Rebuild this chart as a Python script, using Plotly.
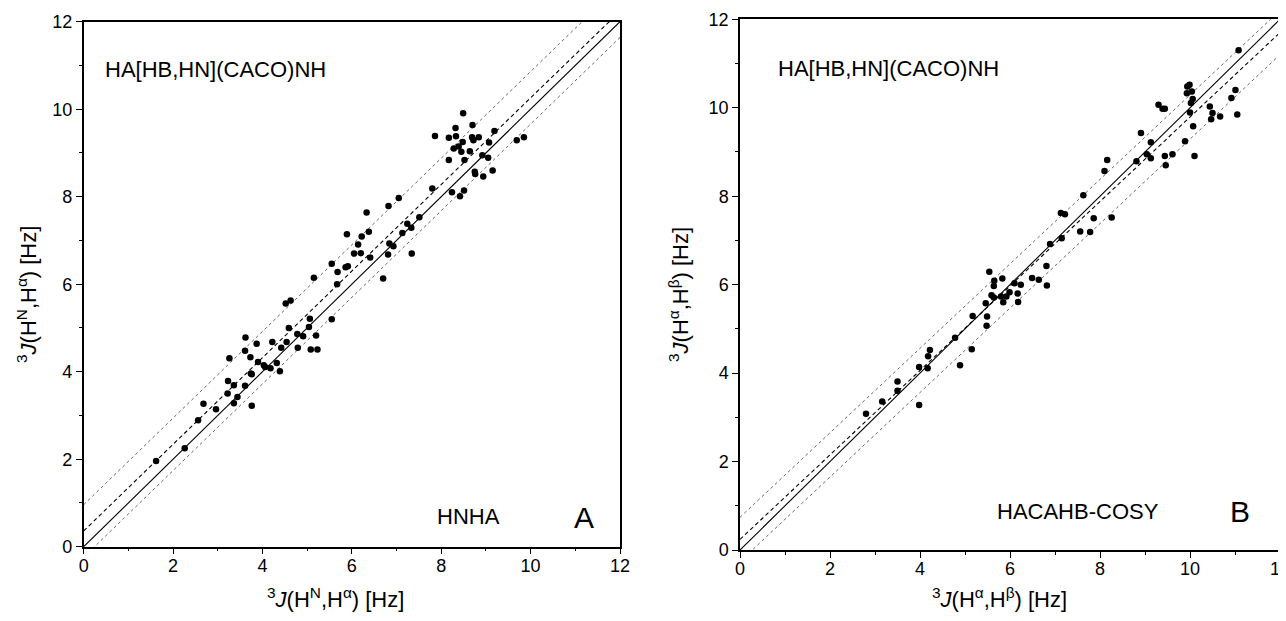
import plotly.graph_objects as go

# ---------------- data ----------------
# Panel A: HA[HB,HN](CACO)NH (y) vs HNHA (x)
a_x = [1.62, 2.26, 2.56, 2.68, 2.96, 3.36, 3.44, 3.22, 3.23, 3.36, 3.61, 3.76, 3.26, 3.61, 3.62,
       3.73, 3.87, 3.74, 3.76, 3.90, 4.03, 4.06, 4.18, 4.22, 4.32, 4.39, 4.42, 4.54, 4.59, 4.52,
       4.63, 4.79, 4.78, 4.91, 5.04, 5.06, 5.08, 5.23, 5.20, 5.55, 5.55, 5.15, 5.67, 5.68,
       5.86, 5.91, 6.05, 6.20, 6.14, 5.89, 6.22, 6.38, 6.33, 6.41, 6.70, 6.81, 6.84, 6.93, 6.82,
       7.05, 7.13, 7.24, 7.33, 7.34, 7.51, 7.80, 7.86, 8.17, 8.17, 8.24, 8.32, 8.33, 8.28, 8.39,
       8.48, 8.45, 8.49, 8.42, 8.51, 8.52, 8.64, 8.70, 8.69, 8.72, 8.84, 8.75, 8.76, 8.94, 8.92,
       9.05, 9.07, 9.15, 9.19, 9.69, 9.85]
a_y = [1.96, 2.25, 2.89, 3.27, 3.14, 3.28, 3.42, 3.50, 3.79, 3.69, 3.68, 3.22, 4.31, 4.48, 4.78,
       4.33, 4.64, 3.96, 3.94, 4.22, 4.15, 4.11, 4.08, 4.68, 4.20, 4.01, 4.55, 4.68, 5.00, 5.56,
       5.63, 4.55, 4.86, 4.81, 5.02, 5.21, 4.51, 4.51, 4.83, 5.20, 6.47, 6.15, 6.00, 6.28,
       6.39, 6.41, 6.70, 6.71, 6.91, 7.14, 7.09, 7.20, 7.64, 6.61, 6.13, 6.68, 6.93, 6.87, 7.79,
       7.97, 7.17, 7.38, 7.29, 6.70, 7.53, 8.19, 9.39, 9.35, 8.84, 8.10, 9.57, 9.38, 9.10, 9.15,
       9.25, 9.03, 9.91, 8.01, 8.14, 8.84, 9.04, 9.64, 9.36, 9.29, 9.36, 8.57, 8.52, 8.46, 8.95,
       8.89, 9.24, 8.60, 9.50, 9.29, 9.36]

# Panel B: HA[HB,HN](CACO)NH (y) vs HACAHB-COSY (x)
b_x = [2.80, 3.16, 3.50, 3.50, 3.98, 3.98, 4.17, 4.18, 4.22, 4.78, 4.89, 5.15, 5.17, 5.48,
       5.49, 5.46, 5.54, 5.65, 5.64, 5.59, 5.64, 5.83, 5.80, 5.85, 5.92, 5.99, 6.10, 6.17, 6.24,
       6.18, 6.49, 6.64, 6.81, 6.82, 6.89, 7.15, 7.13, 7.22, 7.56, 7.63, 7.78, 7.86, 8.10, 8.16,
       8.26, 8.81, 8.91, 9.04, 9.13, 9.13, 9.30, 9.39, 9.44, 9.44, 9.46, 9.61, 9.89, 9.94, 9.99,
       9.93, 10.04, 10.06, 10.02, 10.00, 10.07, 10.10, 10.44, 10.50, 10.47, 10.67, 10.92, 11.01,
       11.05, 11.08]
b_y = [3.08, 3.36, 3.60, 3.81, 3.28, 4.14, 4.11, 4.38, 4.52, 4.80, 4.18, 4.54, 5.29, 5.07,
       5.28, 5.58, 6.29, 6.09, 5.97, 5.76, 5.71, 6.14, 5.73, 5.60, 5.73, 5.83, 6.03, 5.80, 6.00,
       5.61, 6.15, 6.11, 6.42, 5.98, 6.92, 7.05, 7.62, 7.59, 7.20, 8.02, 7.19, 7.50, 8.57, 8.82,
       7.52, 8.79, 9.43, 8.95, 9.22, 8.86, 10.07, 9.98, 9.98, 8.91, 8.70, 8.95, 9.24, 10.48, 10.52,
       10.33, 10.37, 10.20, 10.11, 9.89, 9.58, 8.91, 10.03, 9.88, 9.74, 9.80, 10.22, 10.40,
       9.85, 11.30]

# regression lines: (intercept, slope), prediction band half-width
a_fit = (0.36, 0.99)
a_band = 0.6
b_fit = (0.24, 0.955)
b_band = 0.5
identity = (0.0, 1.0)

axis_range = [0, 12]
tick_vals = [0, 2, 4, 6, 8, 10, 12]

FONT = "Arial, Liberation Sans, sans-serif"

fig = go.Figure()


def add_panel(xs, ys, fit, band, xa, ya):
    lx = axis_range

    def line(c, m):
        return [c + m * v for v in lx]

    c, m = fit
    fig.add_trace(go.Scatter(x=lx, y=line(*identity), mode="lines", xaxis=xa, yaxis=ya,
                             line=dict(color="black", width=1.1), showlegend=False, hoverinfo="skip"))
    fig.add_trace(go.Scatter(x=lx, y=line(c, m), mode="lines", xaxis=xa, yaxis=ya,
                             line=dict(color="black", width=1.1, dash="4px,3px"), showlegend=False,
                             hoverinfo="skip"))
    for s in (1, -1):
        fig.add_trace(go.Scatter(x=lx, y=line(c + s * band, m), mode="lines", xaxis=xa, yaxis=ya,
                                 line=dict(color="#666666", width=1, dash="dot"), showlegend=False,
                                 hoverinfo="skip"))
    fig.add_trace(go.Scatter(x=xs, y=ys, mode="markers", xaxis=xa, yaxis=ya,
                             marker=dict(color="black", size=6.5), showlegend=False))


add_panel(a_x, a_y, a_fit, a_band, "x", "y")
add_panel(b_x, b_y, b_fit, b_band, "x2", "y2")

W, H = 1286, 621
OFF = 8  # page body margin: figure origin sits 8 px in from the page corner


def px_x(p):
    return (p - OFF) / W


def px_y(p):
    return (H - (p - OFF)) / H


axis_common = dict(range=axis_range, tickvals=tick_vals, ticks="outside", ticklen=6, tickwidth=1.2,
                   tickcolor="black", showline=True, linecolor="black", linewidth=1.5, mirror=True,
                   showgrid=False, zeroline=False, tickfont=dict(family=FONT, size=18, color="black"),
                   minor=dict(dtick=1, ticks="outside", ticklen=3, tickwidth=1, tickcolor="black"),
                   automargin=False, fixedrange=True)

fig.update_layout(
    width=W, height=H,
    margin=dict(l=0, r=0, t=0, b=0),
    paper_bgcolor="white", plot_bgcolor="white",
    xaxis=dict(domain=[px_x(83.7), px_x(620)], anchor="y", ticklabelstandoff=-4, **axis_common),
    yaxis=dict(domain=[px_y(546.7), px_y(21.7)], anchor="x", **axis_common),
    xaxis2=dict(domain=[px_x(740), px_x(1280)], anchor="y2", ticklabelstandoff=-4, **axis_common),
    yaxis2=dict(domain=[px_y(550), px_y(19.3)], anchor="x2", **axis_common),
)

ann = []
lab = dict(family=FONT, size=22, color="black")
big = dict(family=FONT, size=30, color="black")
c = dict(showarrow=False, xanchor="center", yanchor="middle")
ann.append(dict(x=2.96, y=10.9, xref="x", yref="y", text="HA[HB,HN](CACO)NH", font=lab, **c))
ann.append(dict(x=8.6, y=0.68, xref="x", yref="y", text="HNHA", font=lab, **c))
ann.append(dict(x=11.19, y=0.66, xref="x", yref="y", text="A", font=big, **c))
ann.append(dict(x=3.29, y=10.88, xref="x2", yref="y2", text="HA[HB,HN](CACO)NH", font=lab, **c))
ann.append(dict(x=7.51, y=0.875, xref="x2", yref="y2", text="HACAHB-COSY", font=lab, **c))
ann.append(dict(x=11.12, y=0.88, xref="x2", yref="y2", text="B", font=big, **c))

title_a = "<sup>3</sup><i>J</i>(H<sup>N</sup>,H<sup>α</sup>) [Hz]"
title_b = "<sup>3</sup><i>J</i>(H<sup>α</sup>,H<sup>β</sup>) [Hz]"
ann.append(dict(x=px_x(335), y=px_y(598), xref="paper", yref="paper", text=title_a, font=lab, **c))
ann.append(dict(x=px_x(999), y=px_y(598), xref="paper", yref="paper", text=title_b, font=lab, **c))
ann.append(dict(x=px_x(27), y=px_y(295), xref="paper", yref="paper", text=title_a, textangle=-90,
                font=lab, **c))
ann.append(dict(x=px_x(679), y=px_y(295), xref="paper", yref="paper", text=title_b, textangle=-90,
                font=lab, **c))
fig.update_layout(annotations=ann)

fig.write_html("out.html")
